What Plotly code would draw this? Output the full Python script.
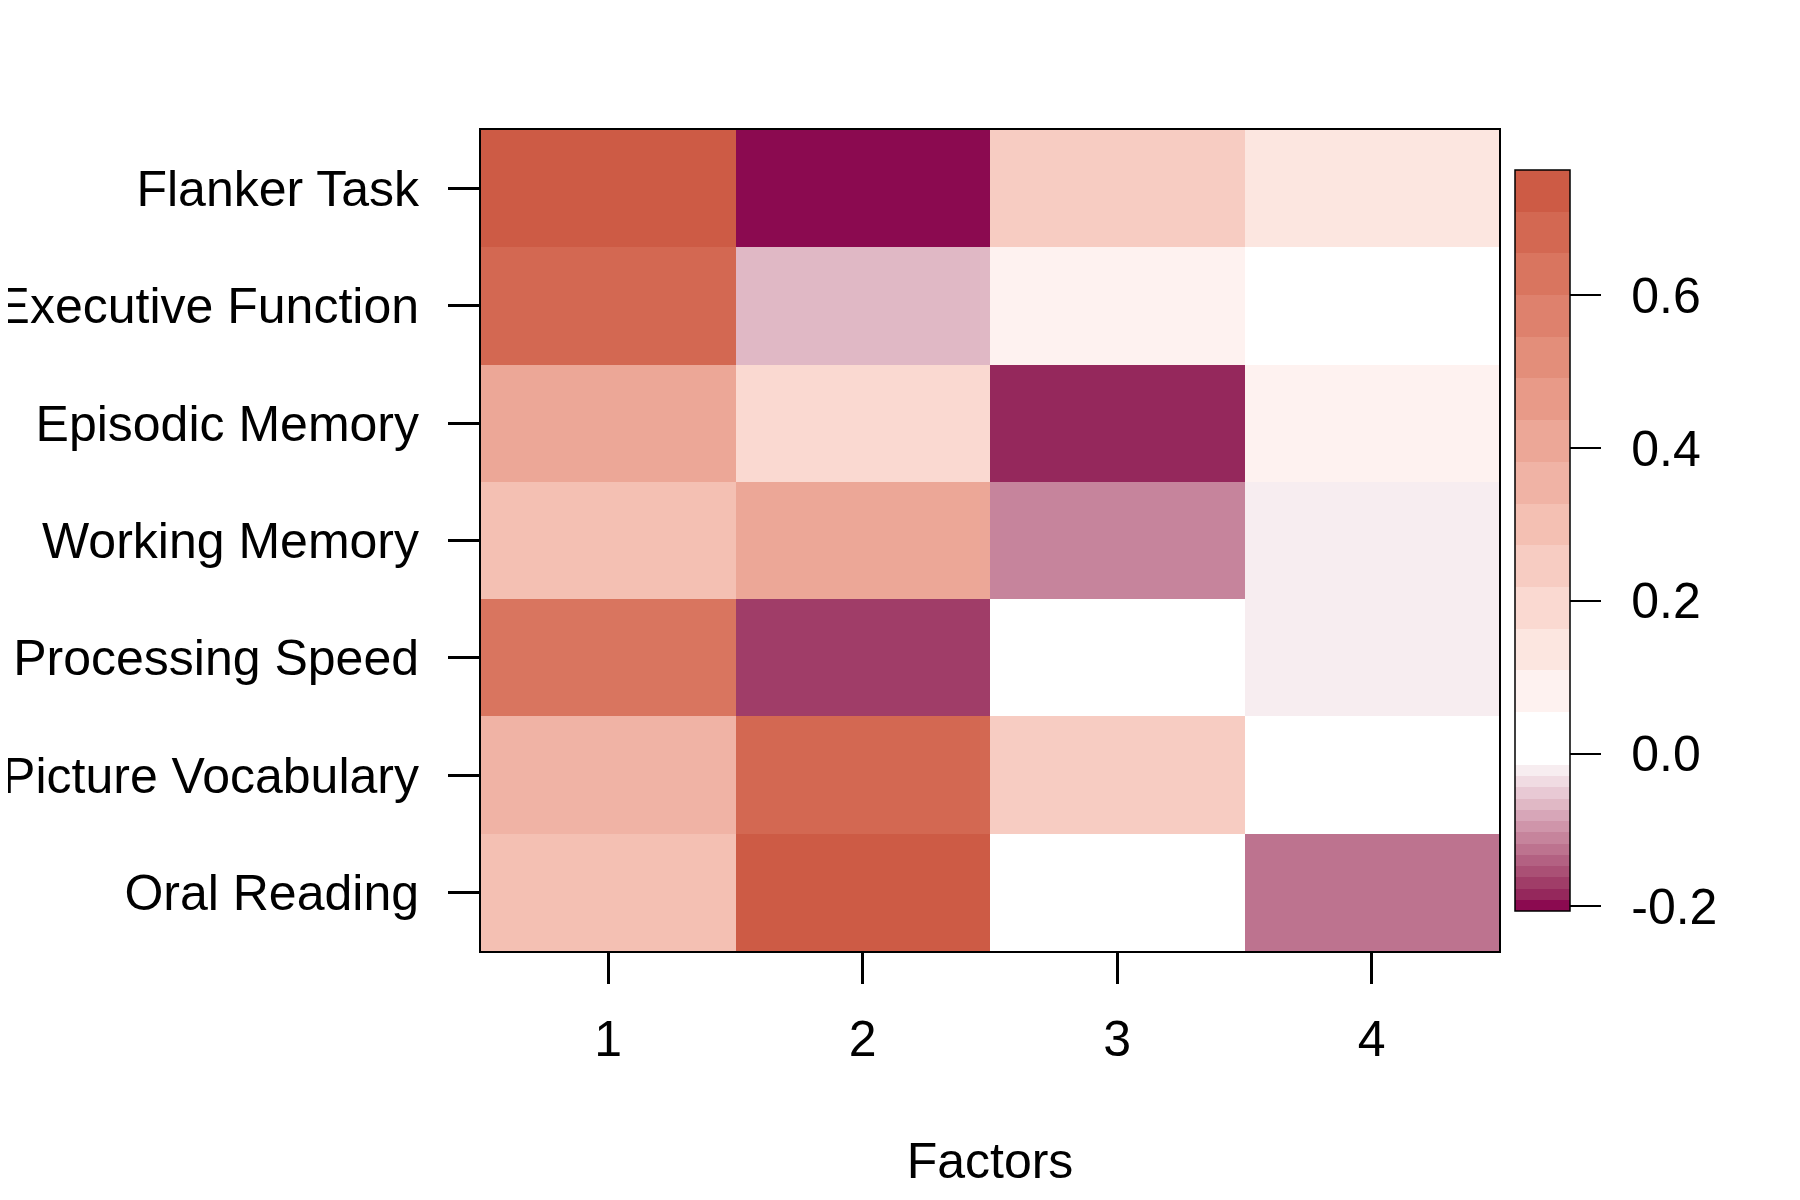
import plotly.graph_objects as go

tests = ["Flanker Task", "Executive Function", "Episodic Memory", "Working Memory",
         "Processing Speed", "Picture Vocabulary", "Oral Reading"]
factors = [1, 2, 3, 4]
f1 = [0.74, 0.69, 0.40, 0.30, 0.63, 0.35, 0.30]
f2 = [-0.206, -0.065, 0.19, 0.40, -0.165, 0.68, 0.764]
f3 = [0.23, 0.08, -0.18, -0.11, 0.02, 0.24, 0.01]
f4 = [0.13, 0.02, 0.08, -0.02, -0.02, 0.0, -0.125]

cbar_ticks = [-0.2, 0.0, 0.2, 0.4, 0.6]
cbar_labels = ["-0.2", "0.0", "0.2", "0.4", "0.6"]

z = [[a, b, c, d] for a, b, c, d in zip(f1, f2, f3, f4)]
zmin = min(min(r) for r in z)
zmax = max(max(r) for r in z)

# discrete diverging palette (Lab interpolation): deeppink4 -> white -> coral3
n = 14
neg_end = (139, 10, 80)
pos_end = (205, 91, 69)
WHITE_REF = (0.95047, 1.0, 1.08883)


def srgb_to_lab(c):
    lin = []
    for v in c:
        v = v / 255.0
        lin.append(v / 12.92 if v <= 0.04045 else ((v + 0.055) / 1.055) ** 2.4)
    r, g, b = lin
    X = 0.4124 * r + 0.3576 * g + 0.1805 * b
    Y = 0.2126 * r + 0.7152 * g + 0.0722 * b
    Z = 0.0193 * r + 0.1192 * g + 0.9505 * b

    def f(t):
        return t ** (1 / 3) if t > 0.008856 else 7.787 * t + 16 / 116

    fx, fy, fz = f(X / WHITE_REF[0]), f(Y / WHITE_REF[1]), f(Z / WHITE_REF[2])
    return (116 * fy - 16, 500 * (fx - fy), 200 * (fy - fz))


def lab_to_srgb(lab):
    L, a, b = lab
    fy = (L + 16) / 116
    fx = fy + a / 500
    fz = fy - b / 200

    def finv(t):
        return t ** 3 if t ** 3 > 0.008856 else (t - 16 / 116) / 7.787

    X, Y, Z = finv(fx) * WHITE_REF[0], finv(fy) * WHITE_REF[1], finv(fz) * WHITE_REF[2]
    r = 3.2406 * X - 1.5372 * Y - 0.4986 * Z
    g = -0.9689 * X + 1.8758 * Y + 0.0415 * Z
    bb = 0.0557 * X - 0.2040 * Y + 1.0570 * Z
    out = []
    for v in (r, g, bb):
        v = min(1.0, max(0.0, v))
        v = 12.92 * v if v <= 0.0031308 else 1.055 * v ** (1 / 2.4) - 0.055
        out.append(round(min(1.0, max(0.0, v)) * 255))
    return "rgb(%d,%d,%d)" % tuple(out)


def mix(c, t):
    w = srgb_to_lab((255, 255, 255))
    e = srgb_to_lab(c)
    return lab_to_srgb(tuple(wi + (ei - wi) * t for wi, ei in zip(w, e)))


bands = []  # (lo, hi, color)
for j in range(n):
    hi = -j * (-zmin) / n
    lo = -(j + 1) * (-zmin) / n
    bands.append((lo, hi, mix(neg_end, j / (n - 1))))
for k in range(n):
    lo = k * zmax / n
    hi = (k + 1) * zmax / n
    bands.append((lo, hi, mix(pos_end, k / (n - 1))))
bands.sort()

colorscale = []
for lo, hi, col in bands:
    a = (lo - zmin) / (zmax - zmin)
    b = (hi - zmin) / (zmax - zmin)
    colorscale.append([max(0.0, min(1.0, a)), col])
    colorscale.append([max(0.0, min(1.0, b)), col])
colorscale[0][0] = 0.0
colorscale[-1][0] = 1.0

pad = "\u2009\u2009"
fig = go.Figure(go.Heatmap(
    z=z, x=factors, y=tests,
    zmin=zmin, zmax=zmax,
    colorscale=colorscale,
    colorbar=dict(
        thickness=55, thicknessmode="pixels",
        len=0.902, lenmode="fraction",
        x=1.0157, xanchor="left", xpad=0,
        y=0.5, yanchor="middle", ypad=0,
        outlinewidth=1.5, outlinecolor="black",
        tickmode="array", tickvals=cbar_ticks,
        ticktext=[pad + t for t in cbar_labels],
        ticks="outside", ticklen=31, tickwidth=2, tickcolor="black",
        tickfont=dict(family="Liberation Sans, Arial", size=50, color="black"),
    ),
))

fig.update_layout(
    width=1800, height=1200,
    margin=dict(l=473, r=309, t=122, b=257, autoexpand=False),
    paper_bgcolor="white", plot_bgcolor="white",
    font=dict(family="Liberation Sans, Arial", size=50, color="black"),
)
fig.update_xaxes(
    range=[0.5, 4.5], tickmode="array", tickvals=factors,
    ticktext=[str(f) for f in factors],
    ticks="outside", ticklen=31, tickwidth=3, tickcolor="black",
    ticklabelstandoff=12,
    showline=True, mirror=True, linecolor="black", linewidth=2,
    showgrid=False, zeroline=False,
    title=dict(text="Factors", standoff=77, font=dict(size=50)),
    tickfont=dict(size=50),
)
fig.update_yaxes(
    autorange="reversed", type="category",
    ticks="outside", ticklen=31, tickwidth=3, tickcolor="black",
    ticklabelstandoff=19,
    showline=True, mirror=True, linecolor="black", linewidth=2,
    showgrid=False, zeroline=False,
    tickfont=dict(size=50),
)

fig.write_html("out.html")
